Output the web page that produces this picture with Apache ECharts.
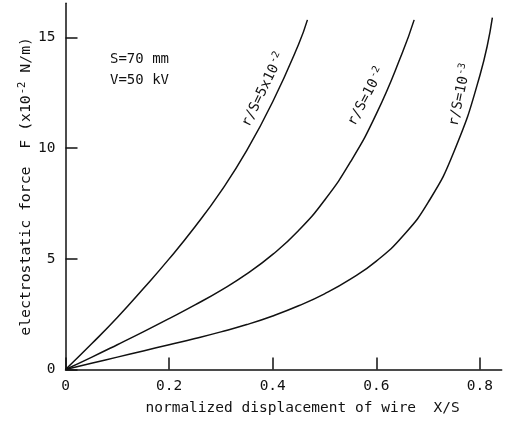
<!DOCTYPE html>
<html>
<head>
<meta charset="utf-8">
<script src="https://cdn.jsdelivr.net/npm/echarts@6/dist/echarts.min.js"></script>
<style>
html,body{margin:0;padding:0;background:#fff;}
#c{width:507px;height:424px;}
</style>
</head>
<body>
<div id="c"></div>
<script>
// Curve r/S = 5x10^-2
const x1 = [0, 0.05, 0.1, 0.15, 0.2, 0.25, 0.3, 0.35, 0.4, 0.45, 0.467];
const y1 = [0, 1.15, 2.35, 3.65, 5.0, 6.45, 8.05, 9.9, 12.1, 14.7, 15.8];
// Curve r/S = 10^-2
const x2 = [0, 0.05, 0.1, 0.15, 0.2, 0.25, 0.3, 0.35, 0.4, 0.45, 0.5, 0.55, 0.6, 0.65, 0.673];
const y2 = [0, 0.55, 1.12, 1.7, 2.3, 2.92, 3.58, 4.32, 5.2, 6.28, 7.65, 9.38, 11.55, 14.3, 15.8];
// Curve r/S = 10^-3
const x3 = [0, 0.05, 0.1, 0.15, 0.2, 0.25, 0.3, 0.35, 0.4, 0.45, 0.5, 0.55, 0.6, 0.65, 0.7, 0.75, 0.8, 0.824];
const y3 = [0, 0.28, 0.56, 0.84, 1.12, 1.4, 1.7, 2.03, 2.42, 2.88, 3.42, 4.08, 4.9, 6.0, 7.55, 9.85, 13.3, 15.9];

const xTicks = [0, 0.2, 0.4, 0.6, 0.8];
const yTicks = [0, 5, 10, 15];

const curveLabels = [
  {text: '{t|r/S=5x10}{s|-2}', x: 0.382, y: 12.64, rot: 64},
  {text: '{t|r/S=10}{s|-2}', x: 0.581, y: 12.33, rot: 62},
  {text: '{t|r/S=10}{s|-3}', x: 0.762, y: 12.41, rot: 78}
];

const FONT = 'DejaVu Sans Mono';
const INK = '#111';

function pairs(xs, ys) { return xs.map((v, i) => [v, ys[i]]); }

const rich = {
  t: {fontFamily: FONT, fontSize: 14, color: INK},
  s: {fontFamily: FONT, fontSize: 10, color: INK, verticalAlign: 'top', padding: [0, 0, 8, 1]}
};
const richName = {
  t: {fontFamily: FONT, fontSize: 14.8, color: INK},
  s: {fontFamily: FONT, fontSize: 10.5, color: INK, verticalAlign: 'top', padding: [0, 0, 8, 1]}
};

function labelMark(l) {
  return {
    symbol: 'circle',
    symbolSize: 1,
    silent: true,
    itemStyle: {color: 'rgba(0,0,0,0)'},
    data: [{coord: [l.x, l.y],
      label: {show: true, formatter: l.text, rotate: l.rot, position: 'inside',
        rich: rich, align: 'center', verticalAlign: 'middle'}}]
  };
}

const lineStyle = {color: INK, width: 1.5};

const chart = echarts.init(document.getElementById('c'), null, {renderer: 'canvas'});
chart.setOption({
  backgroundColor: '#fff',
  animation: false,
  grid: {left: 65.5, right: 5.3, top: 3.3, bottom: 54.5, containLabel: false},
  xAxis: {
    type: 'value', min: 0, max: 0.842, interval: 0.2,
    name: 'normalized displacement of wire  X/S',
    nameLocation: 'middle', nameGap: 31,
    nameTextStyle: {fontFamily: FONT, fontSize: 14.5, color: INK, padding: [0, 0, 0, 38]},
    axisLine: {show: true, lineStyle: {color: INK, width: 1.5}},
    axisTick: {show: true, inside: true, length: 12, lineStyle: {color: INK, width: 1.5}, customValues: xTicks},
    axisLabel: {show: true, margin: 9, fontFamily: FONT, fontSize: 14.5, color: INK, customValues: xTicks,
      formatter: v => (v === 0 ? '0' : v.toFixed(1))},
    splitLine: {show: false}
  },
  yAxis: {
    type: 'value', min: 0, max: 16.55, interval: 5,
    name: '{t|electrostatic force  F (x10}{s|-2}{t| N/m)}',
    nameLocation: 'middle', nameGap: 30, nameMoveOverlap: false,
    nameTextStyle: {rich: richName},
    axisLine: {show: true, lineStyle: {color: INK, width: 1.5}},
    axisTick: {show: true, inside: true, length: 12, lineStyle: {color: INK, width: 1.5}, customValues: yTicks},
    axisLabel: {show: true, margin: 10, fontFamily: FONT, fontSize: 14.5, color: INK, customValues: yTicks},
    splitLine: {show: false}
  },
  graphic: [
    {type: 'text', left: 110, top: 52, style: {text: 'S=70 mm', font: '14px "DejaVu Sans Mono"', fill: INK}},
    {type: 'text', left: 110, top: 73, style: {text: 'V=50 kV', font: '14px "DejaVu Sans Mono"', fill: INK}}
  ],
  series: [
    {type: 'line', data: pairs(x1, y1), smooth: 0.5, showSymbol: false, lineStyle: lineStyle, markPoint: labelMark(curveLabels[0])},
    {type: 'line', data: pairs(x2, y2), smooth: 0.5, showSymbol: false, lineStyle: lineStyle, markPoint: labelMark(curveLabels[1])},
    {type: 'line', data: pairs(x3, y3), smooth: 0.5, showSymbol: false, lineStyle: lineStyle, markPoint: labelMark(curveLabels[2])}
  ]
});
</script>
</body>
</html>
